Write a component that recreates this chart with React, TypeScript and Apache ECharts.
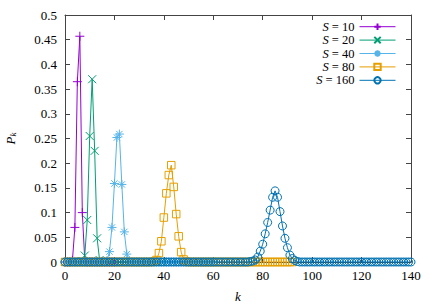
import React, { useEffect, useRef } from "react";
import * as echarts from "echarts";

// S values of the five curves
const sValues = [10, 20, 40, 80, 160];
// last k sampled for each curve (all start at k = 0)
const kMax = [20, 40, 60, 92, 140];
// first k of each listed peak (values outside the listed range are 0)
const peakStart = [3, 7, 16, 36, 75];
const peakS10 = [0.003, 0.07, 0.365, 0.457, 0.1, 0.004];
const peakS20 = [0.002, 0.013, 0.085, 0.255, 0.37, 0.225, 0.048, 0.004];
const peakS40 = [0.001, 0.003, 0.021, 0.07, 0.159, 0.252, 0.259, 0.157, 0.061, 0.016, 0.002];
const peakS80 = [0.001, 0.004, 0.018, 0.042, 0.09, 0.139, 0.176, 0.196, 0.152, 0.097, 0.052, 0.02, 0.005, 0.001];
const peakS160 = [0.001, 0.002, 0.004, 0.01, 0.022, 0.036, 0.057, 0.08, 0.105, 0.131, 0.144, 0.131, 0.102, 0.073, 0.048, 0.029, 0.014, 0.007, 0.003, 0.001];
const peaks = [peakS10, peakS20, peakS40, peakS80, peakS160];

const colors = ["#9400d3", "#009e73", "#56b4e9", "#e69f00", "#0072b2"];
const symbols = [
  "path://M0,4L8,4M4,0L4,8",
  "path://M0,0L8,8M8,0L0,8",
  "path://M0,4L8,4M4,0L4,8M1.2,1.2L6.8,6.8M6.8,1.2L1.2,6.8",
  "rect",
  "circle",
];
const symbolSizes = [9, 8, 9, 7.5, 8];

const FONT = "Liberation Serif";

function buildData(i: number): number[][] {
  const out: number[][] = [];
  const p = peaks[i];
  for (let k = 0; k <= kMax[i]; k++) {
    const idx = k - peakStart[i];
    const v = idx >= 0 && idx < p.length ? p[idx] : 0;
    out.push([k, v]);
  }
  return out;
}

export default function App() {
  const ref = useRef<HTMLDivElement>(null);
  useEffect(() => {
    document.body.style.margin = "0";
    if (!ref.current) return;
    const chart = echarts.init(ref.current, undefined, { renderer: "svg" });
    const axisLineColor = "#444";
    const commonX = {
      type: "value" as const,
      min: 0,
      max: 140,
      interval: 20,
      splitLine: { show: false },
      axisLine: { show: true, onZero: false, lineStyle: { color: axisLineColor, width: 1 } },
      axisTick: { show: true, inside: true, length: 5, lineStyle: { color: axisLineColor } },
    };
    const commonY = {
      type: "value" as const,
      min: 0,
      max: 0.5,
      interval: 0.05,
      splitLine: { show: false },
      axisLine: { show: true, onZero: false, lineStyle: { color: axisLineColor, width: 1 } },
      axisTick: { show: true, inside: true, length: 5, lineStyle: { color: axisLineColor } },
    };
    chart.setOption({
      animation: false,
      backgroundColor: "#fff",
      textStyle: { fontFamily: FONT },
      grid: { left: 65, right: 25, top: 15, bottom: 43, containLabel: false, outerBoundsMode: "none" },
      legend: {
        orient: "vertical",
        right: 40,
        top: 20,
        align: "right",
        itemWidth: 36,
        itemHeight: 8,
        itemGap: 0,
        padding: 0,
        lineStyle: { width: 1 },
        data: sValues.map((s) => `S = ${s}`),
        formatter: (name: string) => `{i|S} = ${name.split("= ")[1]}`,
        textStyle: {
          fontFamily: FONT,
          fontSize: 12.5,
          color: "#000",
          lineHeight: 13.4,
          rich: {
            i: { fontFamily: FONT, fontSize: 12.5, fontStyle: "italic", color: "#000", lineHeight: 13.4 },
          },
        },
      },
      xAxis: [
        {
          ...commonX,
          position: "bottom",
          axisLabel: { show: true, margin: 7, fontFamily: FONT, fontSize: 13, color: "#000" },
          name: "k",
          nameLocation: "middle",
          nameGap: 28,
          nameTextStyle: { fontFamily: FONT, fontSize: 13, fontStyle: "italic", color: "#000" },
        },
        {
          ...commonX,
          position: "top",
          axisLabel: { show: false },
        },
      ],
      yAxis: [
        {
          ...commonY,
          position: "left",
          axisLabel: { show: true, margin: 8, fontFamily: FONT, fontSize: 13, color: "#000" },
          name: "{i|P}{s|k}",
          nameLocation: "middle",
          nameGap: 48,
          nameTextStyle: {
            color: "#000",
            fontFamily: FONT,
            rich: {
              i: { fontFamily: FONT, fontSize: 13, fontStyle: "italic", color: "#000" },
              s: { fontFamily: FONT, fontSize: 9, fontStyle: "italic", color: "#000", padding: [5, 0, 0, 0] },
            },
          },
        },
        {
          ...commonY,
          position: "right",
          axisLabel: { show: false },
        },
      ],
      series: sValues.map((s, i) => ({
        name: `S = ${s}`,
        type: "line",
        xAxisIndex: 0,
        yAxisIndex: 0,
        data: buildData(i),
        symbol: symbols[i],
        symbolSize: symbolSizes[i],
        showAllSymbol: true,
        lineStyle: { color: colors[i], width: 1 },
        itemStyle: { color: "transparent", borderColor: colors[i], borderWidth: 1 },
        emphasis: { disabled: true },
        z: 2 + i,
      })),
    });
    return () => chart.dispose();
  }, []);
  return <div ref={ref} style={{ width: 436, height: 305 }} />;
}
